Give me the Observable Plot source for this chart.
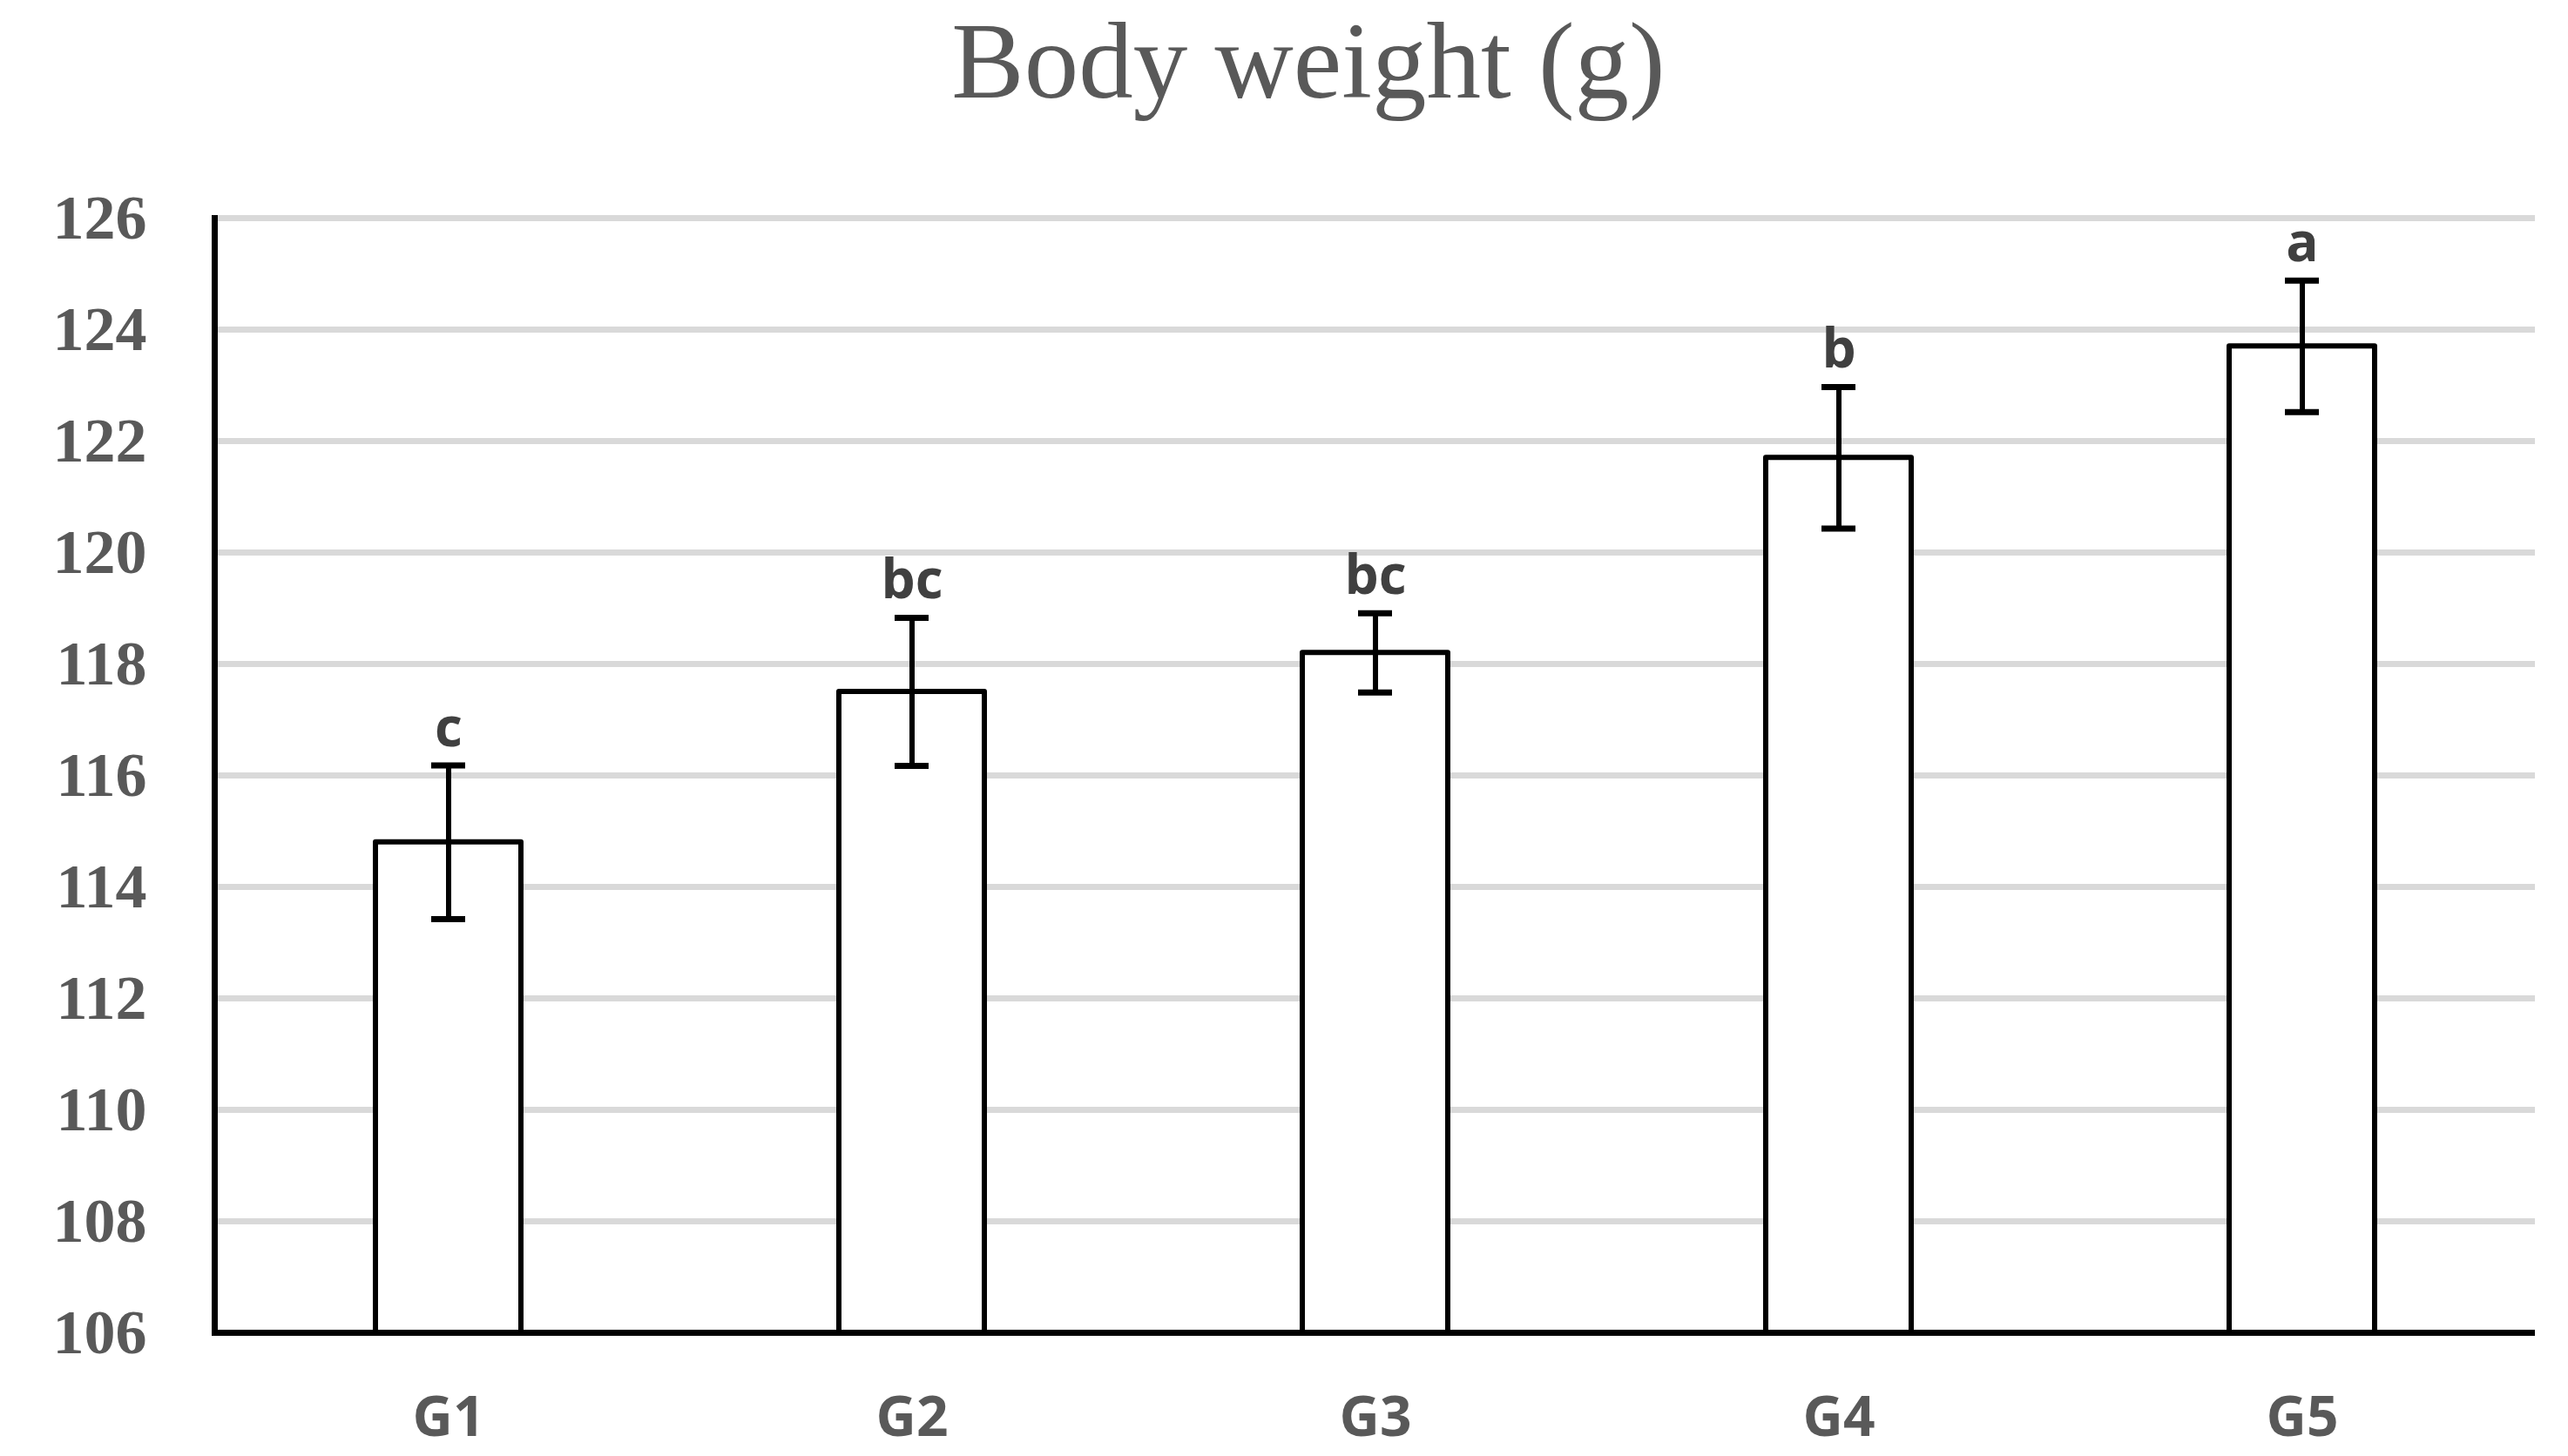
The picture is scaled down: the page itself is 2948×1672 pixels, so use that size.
<!DOCTYPE html>
<html>
<head>
<meta charset="utf-8">
<script src="https://cdn.jsdelivr.net/npm/d3@7"></script>
<script src="https://cdn.jsdelivr.net/npm/@observablehq/plot@0.6"></script>
<style>
  html, body { margin: 0; padding: 0; background: #ffffff; }
  #wrap { position: relative; width: 2948px; height: 1672px; overflow: hidden; }
  #title {
    position: relative; height: 180px; width: 2948px;
  }
  #title span {
    position: absolute; left: 1502px; top: 8px; transform: translateX(-50%);
    font-family: "Liberation Serif", "DejaVu Serif", serif; font-size: 125px; line-height: 1;
    color: #595959; white-space: nowrap;
  }
</style>
</head>
<body>
<div id="wrap">
  <div id="title"><span>Body weight (g)</span></div>
  <div id="chart"></div>
</div>
<script>
const groups = ["G1", "G2", "G3", "G4", "G5"];
const means = [114.8, 117.5, 118.2, 121.7, 123.7];
const errors = [1.38, 1.33, 0.71, 1.27, 1.18];
const letters = ["c", "bc", "bc", "b", "a"];
const yTicks = [106, 108, 110, 112, 114, 116, 118, 120, 122, 124, 126];

const baseline = yTicks[0];
const data = groups.map((g, i) => ({
  group: g, mean: means[i], lo: means[i] - errors[i], hi: means[i] + errors[i], letter: letters[i]
}));

const chart = Plot.plot({
  width: 2948,
  height: 1492,
  marginTop: 70,
  marginBottom: 142,
  marginLeft: 246,
  marginRight: 38,
  style: { background: "#ffffff", overflow: "visible" },
  x: { domain: groups, paddingInner: 0.6866, paddingOuter: 0.3433, label: null },
  y: { domain: [yTicks[0], yTicks[yTicks.length - 1]], ticks: yTicks, label: null },
  marks: [
    Plot.gridY(yTicks, { stroke: "#d9d9d9", strokeWidth: 7, strokeOpacity: 1 }),
    Plot.axisY(yTicks, {
      tickSize: 0, tickPadding: 78, tickFormat: d => String(d),
      fontFamily: "Liberation Serif, DejaVu Serif, serif", fontWeight: "bold", fontSize: 72,
      fill: "#595959", label: null
    }),
    Plot.axisX({
      tickSize: 0, tickPadding: 73,
      fontFamily: "Open Sans, Noto Sans, sans-serif", fontWeight: "bold", fontSize: 64,
      fill: "#595959", label: null
    }),
    Plot.barY(data, {
      x: "group", y1: () => baseline, y2: "mean",
      fill: "#ffffff", stroke: "#000000", strokeWidth: 6, strokeLinejoin: "round"
    }),
    Plot.ruleX(data, { x: "group", y1: "lo", y2: "hi", stroke: "#000000", strokeWidth: 6 }),
    Plot.tickY(data, { x: "group", y: "hi", stroke: "#000000", strokeWidth: 7, insetLeft: 64, insetRight: 64 }),
    Plot.tickY(data, { x: "group", y: "lo", stroke: "#000000", strokeWidth: 7, insetLeft: 64, insetRight: 64 }),
    Plot.text(data, {
      x: "group", y: "hi", text: "letter", lineAnchor: "bottom", dy: -22,
      fontFamily: "Open Sans, Noto Sans, sans-serif", fontWeight: "bold", fontSize: 62, fill: "#404040"
    }),
    Plot.ruleY([baseline], { stroke: "#000000", strokeWidth: 7 }),
    Plot.frame({ anchor: "left", stroke: "#000000", strokeWidth: 7 })
  ]
});
document.getElementById("chart").appendChild(chart);
</script>
</body>
</html>
